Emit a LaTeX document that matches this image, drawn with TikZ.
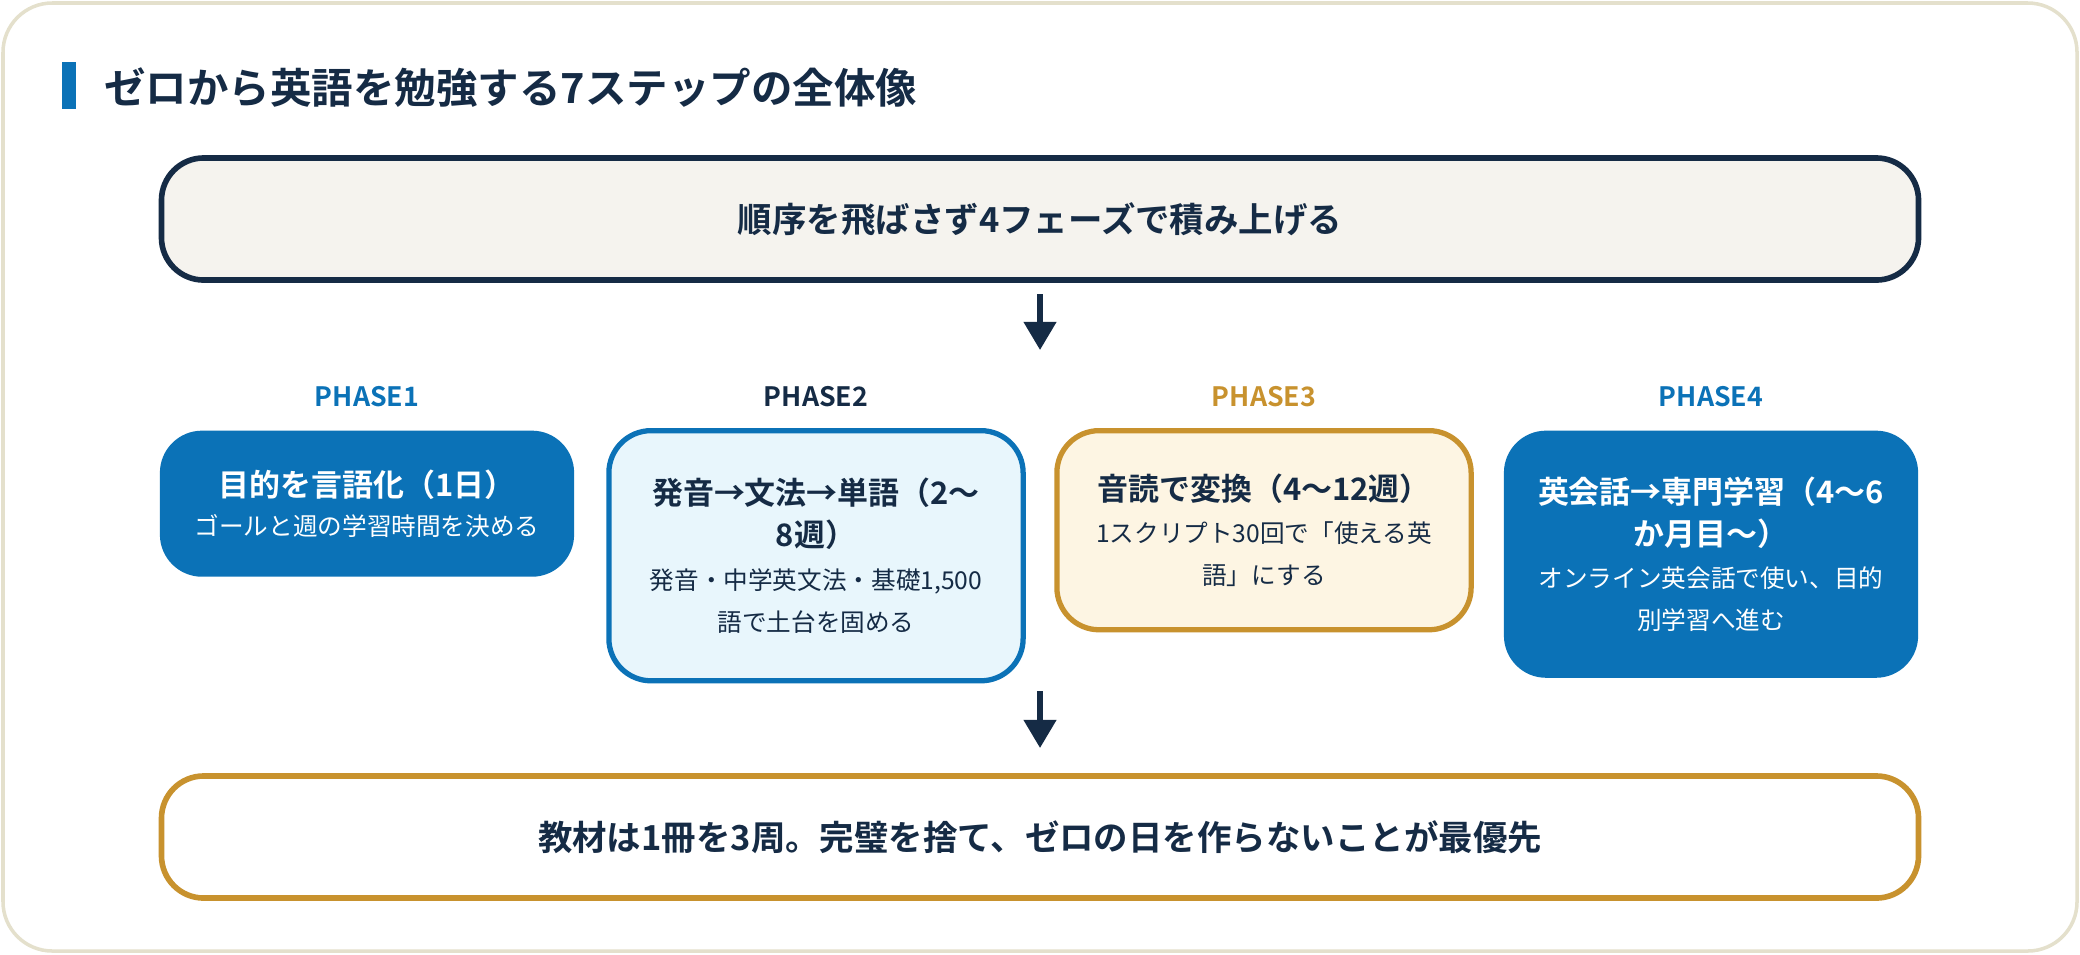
\documentclass[tikz,border=0pt]{standalone}
\usepackage{fontspec}
\setmainfont{Noto Sans CJK JP}[BoldFont={Noto Sans CJK JP Bold}]
\usetikzlibrary{arrows.meta}
\definecolor{navy}{HTML}{152B45}
\definecolor{pblue}{HTML}{0B72B7}
\definecolor{gold}{HTML}{C8922E}
\definecolor{frame}{HTML}{E4E0CC}
\definecolor{topfill}{HTML}{F5F3EE}
\definecolor{lblue}{HTML}{E8F6FC}
\definecolor{cream}{HTML}{FDF5E3}
\tikzset{
 wide/.style={draw=navy,line width=1.6pt,rounded corners=12pt,minimum width=17.56cm,minimum height=1.22cm,font=\bfseries\fontsize{9.8pt}{11pt}\selectfont,text=navy},
 phase/.style={anchor=north,line width=1.5pt,rounded corners=12pt,minimum width=4.14cm,align=center},
 plabel/.style={font=\bfseries\fontsize{7.6pt}{9pt}\selectfont},
 flow/.style={-{Triangle[length=8pt,width=9pt]},line width=1.6pt,navy},
}
\newcommand{\ttl}[1]{{\bfseries\fontsize{8.8pt}{13.5pt}\selectfont #1}}
\newcommand{\sub}[1]{{\fontsize{7pt}{14.5pt}\selectfont #1}}
\begin{document}
\begin{tikzpicture}[x=0.01cm,y=-0.01cm]
\useasboundingbox (0,0) rectangle (2080,954);
\draw[frame,line width=1pt,fill=white,rounded corners=14pt] (3,3) rectangle (2077,951);

% title
\fill[pblue] (62,62) rectangle (76,109);
\node[anchor=west,text=navy,font=\bfseries\fontsize{11.8pt}{13pt}\selectfont] (title) at (92,88) {ゼロから英語を勉強する7ステップの全体像};

\node[wide,fill=topfill] (top) at (1040,219) {順序を飛ばさず4フェーズで積み上げる};
\node[wide,fill=white,draw=gold] (bottom) at (1040,837) {教材は1冊を3周。完璧を捨て、ゼロの日を作らないことが最優先};

% phases
\def\py{428}
\node[plabel,text=pblue] (l1) at (367,397) {PHASE1};
\node[plabel,text=navy] (l2) at (816,397) {PHASE2};
\node[plabel,text=gold] (l3) at (1264,397) {PHASE3};
\node[plabel,text=pblue] (l4) at (1711,397) {PHASE4};

\node[phase,fill=pblue,text=white,minimum height=1.46cm] (p1) at (367,\py)
 {\ttl{目的を言語化（1日）}\\[-1pt]\sub{ゴールと週の学習時間を決める}};
\node[phase,fill=lblue,draw=pblue,text=navy,minimum height=2.5cm] (p2) at (816,\py)
 {\ttl{発音→文法→単語（2〜}\\\ttl{8週）}\\\sub{発音・中学英文法・基礎1,500}\\\sub{語で土台を固める}};
\node[phase,fill=cream,draw=gold,text=navy,minimum height=1.99cm] (p3) at (1264,\py)
 {\ttl{音読で変換（4〜12週）}\\\sub{1スクリプト30回で「使える英}\\\sub{語」にする}};
\node[phase,fill=pblue,text=white,minimum height=2.47cm] (p4) at (1711,\py)
 {\ttl{英会話→専門学習（4〜6}\\\ttl{か月目〜）}\\\sub{オンライン英会話で使い、目的}\\\sub{別学習へ進む}};

\coordinate (a1) at (1040,294);
\coordinate (b1) at (1040,350);
\coordinate (a2) at (1040,691);
\coordinate (b2) at (1040,748);
\draw[flow] (a1) -- (b1);
\draw[flow] (a2) -- (b2);
\end{tikzpicture}
\end{document}
